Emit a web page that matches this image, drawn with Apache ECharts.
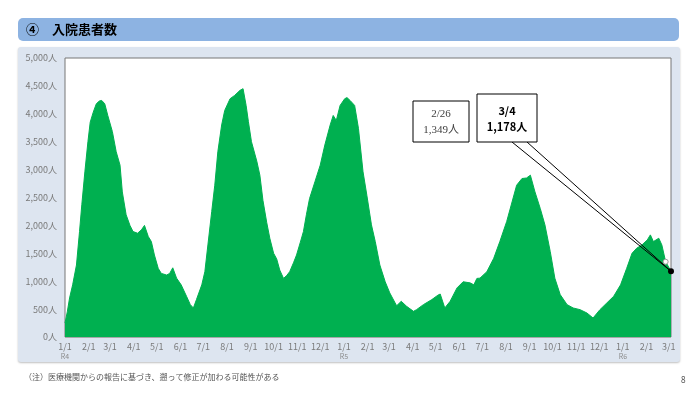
<!DOCTYPE html>
<html>
<head>
<meta charset="utf-8">
<script src="https://cdn.jsdelivr.net/npm/echarts@6/dist/echarts.min.js"></script>
<style>
  html, body { margin: 0; padding: 0; background: #ffffff; }
  #chart { width: 700px; height: 394px; }
</style>
</head>
<body>
<div id="chart"></div>
<script>
// ---- Data ----
const startDate = '2022-01-01';
const endDate = '2024-03-04';

const sampleDates = [
  '2022-01-01','2022-01-04','2022-01-07','2022-01-11','2022-01-16','2022-01-20','2022-01-23','2022-01-27','2022-01-31',
  '2022-02-03','2022-02-07','2022-02-11','2022-02-15','2022-02-18','2022-02-22','2022-02-26',
  '2022-03-04','2022-03-09','2022-03-14','2022-03-17','2022-03-22','2022-03-27','2022-03-31',
  '2022-04-06','2022-04-11','2022-04-15','2022-04-20','2022-04-24','2022-04-28',
  '2022-05-03','2022-05-07','2022-05-14','2022-05-18','2022-05-22','2022-05-27',
  '2022-06-02','2022-06-09','2022-06-14','2022-06-18','2022-06-22','2022-06-29',
  '2022-07-03','2022-07-07','2022-07-12','2022-07-16','2022-07-20','2022-07-25','2022-07-29',
  '2022-08-05','2022-08-11','2022-08-18','2022-08-22','2022-08-26','2022-08-29',
  '2022-09-02','2022-09-09','2022-09-13','2022-09-17','2022-09-22','2022-09-26',
  '2022-10-01','2022-10-05','2022-10-09','2022-10-14','2022-10-18','2022-10-22','2022-10-27','2022-10-31',
  '2022-11-05','2022-11-09','2022-11-13','2022-11-17','2022-11-24',
  '2022-12-01','2022-12-07','2022-12-14','2022-12-18','2022-12-22','2022-12-27',
  '2023-01-02','2023-01-05','2023-01-09','2023-01-15','2023-01-20','2023-01-26','2023-01-31',
  '2023-02-06','2023-02-11','2023-02-17','2023-02-24',
  '2023-03-02','2023-03-09','2023-03-11','2023-03-17','2023-03-24',
  '2023-04-02','2023-04-06','2023-04-15','2023-04-26',
  '2023-05-04','2023-05-07','2023-05-13','2023-05-20','2023-05-29',
  '2023-06-06','2023-06-15','2023-06-20','2023-06-24','2023-06-28',
  '2023-07-07','2023-07-16','2023-07-24',
  '2023-08-02','2023-08-09','2023-08-15','2023-08-22','2023-08-28',
  '2023-09-02','2023-09-08','2023-09-15','2023-09-21','2023-09-28',
  '2023-10-04','2023-10-11','2023-10-20','2023-10-28',
  '2023-11-06','2023-11-15','2023-11-23',
  '2023-12-02','2023-12-11','2023-12-20','2023-12-29',
  '2024-01-06','2024-01-13','2024-01-19','2024-01-26',
  '2024-02-02','2024-02-06','2024-02-10','2024-02-17','2024-02-21','2024-02-26',
  '2024-03-04'
];

const inpatients = [
  250,450,700,935,1290,1890,2370,2960,3500,
  3850,4030,4180,4230,4240,4180,3970,
  3680,3320,3080,2600,2190,2000,1890,
  1860,1920,2000,1800,1710,1470,
  1230,1140,1110,1140,1240,1055,
  935,730,580,520,670,935,
  1170,1650,2250,2720,3320,3800,4060,
  4270,4330,4420,4450,4150,3860,
  3500,3150,2900,2450,2050,1770,
  1500,1400,1200,1050,1100,1170,1330,1470,
  1700,1890,2200,2480,2780,
  3080,3440,3800,3970,3880,4150,
  4270,4290,4240,4150,3740,2960,2540,
  2010,1710,1290,990,
  790,610,560,640,550,
  460,490,580,670,
  750,770,520,640,880,
  990,970,935,1050,1055,
  1170,1410,1710,
  2070,2420,2720,2840,2850,
  2900,2600,2300,2010,1530,
  1055,760,580,520,
  490,430,340,
  490,610,730,935,
  1230,1500,1590,1650,
  1740,1830,1710,1770,1650,1349,
  1178
];

const yTicks = [0, 500, 1000, 1500, 2000, 2500, 3000, 3500, 4000, 4500, 5000];
const eraLabels = { '2022': 'R4', '2023': 'R5', '2024': 'R6' };

const calloutDates = ['2024-02-26', '2024-03-04'];
const calloutValues = [1349, 1178];

const titleText = '④　入院患者数';
const noteText = '（注）医療機関からの報告に基づき、遡って修正が加わる可能性がある';
const pageNo = '8';

// ---- Build daily categories ----
function fmt(d) {
  const y = d.getUTCFullYear();
  const m = String(d.getUTCMonth() + 1).padStart(2, '0');
  const dd = String(d.getUTCDate()).padStart(2, '0');
  return y + '-' + m + '-' + dd;
}
const categories = [];
{
  const s = new Date(startDate + 'T00:00:00Z');
  const e = new Date(endDate + 'T00:00:00Z');
  for (let t = s.getTime(); t <= e.getTime(); t += 86400000) {
    categories.push(fmt(new Date(t)));
  }
}
const lookup = {};
sampleDates.forEach((d, i) => { lookup[d] = inpatients[i]; });
const seriesData = categories.map(d => (d in lookup ? lookup[d] : null));

const labelFont = 'Noto Sans CJK JP';
const chart = echarts.init(document.getElementById('chart'), null, { renderer: 'canvas' });

const option = {
  animation: false,
  backgroundColor: '#ffffff',
  grid: {
    left: 65, right: 29, top: 58, bottom: 57,
    show: true, backgroundColor: '#ffffff', borderColor: '#767676', borderWidth: 1,
    z: 3
  },
  xAxis: {
    type: 'category',
    data: categories,
    boundaryGap: false,
    axisLine: { show: false },
    axisTick: { show: false },
    splitLine: { show: false },
    axisLabel: {
      interval: (idx, val) => val.slice(8) === '01',
      color: '#7a7a7a',
      fontFamily: labelFont,
      fontSize: 9,
      margin: 4,
      lineHeight: 11,
      formatter: (val) => {
        const y = val.slice(0, 4), m = +val.slice(5, 7), d = +val.slice(8);
        let s = m + '/' + d;
        if (m === 1 && d === 1) s += '\n{r|' + eraLabels[y] + '}';
        return s;
      },
      rich: { r: { fontSize: 7, color: '#8a8a8a', fontFamily: labelFont, lineHeight: 8 } }
    }
  },
  yAxis: {
    type: 'value',
    min: yTicks[0],
    max: yTicks[yTicks.length - 1],
    interval: 500,
    axisLine: { show: false },
    axisTick: { show: false },
    splitLine: { show: true, lineStyle: { color: '#d9d9d9', width: 1 } },
    axisLabel: {
      color: '#7a7a7a',
      fontFamily: labelFont,
      fontSize: 9,
      margin: 8,
      formatter: (v) => v.toLocaleString('en-US') + '人'
    }
  },
  series: [{
    type: 'line',
    data: seriesData,
    connectNulls: true,
    showSymbol: false,
    symbol: 'none',
    lineStyle: { color: '#00b050', width: 1 },
    areaStyle: { color: '#00b050', opacity: 1 },
    z: 4,
    markPoint: {
      silent: true,
      label: { show: false },
      data: [
        { coord: [calloutDates[0], calloutValues[0]], symbol: 'circle', symbolSize: 5,
          itemStyle: { color: '#ffffff', borderColor: '#9a9a9a', borderWidth: 1 } },
        { coord: [calloutDates[1], calloutValues[1]], symbol: 'circle', symbolSize: 6,
          itemStyle: { color: '#000000' } }
      ]
    }
  }],
  graphic: [
    { id: 'panel', type: 'rect', z: -10, shape: { x: 18, y: 47, width: 662, height: 315, r: 3 },
      style: { fill: '#dde5f0', shadowColor: 'rgba(0,0,0,0.25)', shadowBlur: 2, shadowOffsetY: 1 } },
    { id: 'header', type: 'rect', z: -10, shape: { x: 18, y: 18, width: 661, height: 23, r: 5 },
      style: { fill: '#8db3e2' } },
    { id: 'title', type: 'text', z: 10, x: 26, y: 29,
      style: { text: titleText, font: 'bold 13px "Noto Sans CJK JP"', fill: '#000000', verticalAlign: 'middle' } },
    { id: 'note', type: 'text', x: 24, y: 377,
      style: { text: noteText, font: '8px "Noto Sans CJK JP"', fill: '#555555', verticalAlign: 'middle' } },
    { id: 'page', type: 'text', x: 681, y: 381,
      style: { text: pageNo, font: '8px "Noto Sans"', fill: '#555555', verticalAlign: 'middle' } }
  ]
};
chart.setOption(option);

// Callout boxes anchored to the data points
const p1 = chart.convertToPixel({ xAxisIndex: 0, yAxisIndex: 0 }, [calloutDates[1], calloutValues[1]]);
const fmtNum = (v) => v.toLocaleString('en-US');
const md = (s) => (+s.slice(5, 7)) + '/' + (+s.slice(8));
chart.setOption({
  graphic: [
    { id: 'box1', type: 'rect', z: 20, shape: { x: 413, y: 101, width: 56, height: 41 },
      style: { fill: '#ffffff', stroke: '#000000', lineWidth: 1 } },
    { id: 'box1a', type: 'text', z: 21, x: 441, y: 114,
      style: { text: md(calloutDates[0]), font: '11px "Liberation Serif"', fill: '#404040', align: 'center', verticalAlign: 'middle' } },
    { id: 'box1b', type: 'text', z: 21, x: 441, y: 130,
      style: { text: fmtNum(calloutValues[0]) + '人', font: '11px "Liberation Serif", "Noto Sans CJK JP"', fill: '#404040', align: 'center', verticalAlign: 'middle' } },
    { id: 'wedge', type: 'polyline', z: 19, shape: { points: [[512, 142], [p1[0], p1[1]], [527, 142]] },
      style: { fill: null, stroke: '#000000', lineWidth: 1 } },
    { id: 'box2', type: 'rect', z: 20, shape: { x: 477, y: 94, width: 60, height: 48 },
      style: { fill: '#ffffff', stroke: '#000000', lineWidth: 1 } },
    { id: 'box2a', type: 'text', z: 21, x: 507, y: 111,
      style: { text: md(calloutDates[1]), font: 'bold 11px "Noto Sans CJK JP"', fill: '#000000', align: 'center', verticalAlign: 'middle' } },
    { id: 'box2b', type: 'text', z: 21, x: 507, y: 127,
      style: { text: fmtNum(calloutValues[1]) + '人', font: 'bold 11px "Noto Sans CJK JP"', fill: '#000000', align: 'center', verticalAlign: 'middle' } }
  ]
});
</script>
</body>
</html>
